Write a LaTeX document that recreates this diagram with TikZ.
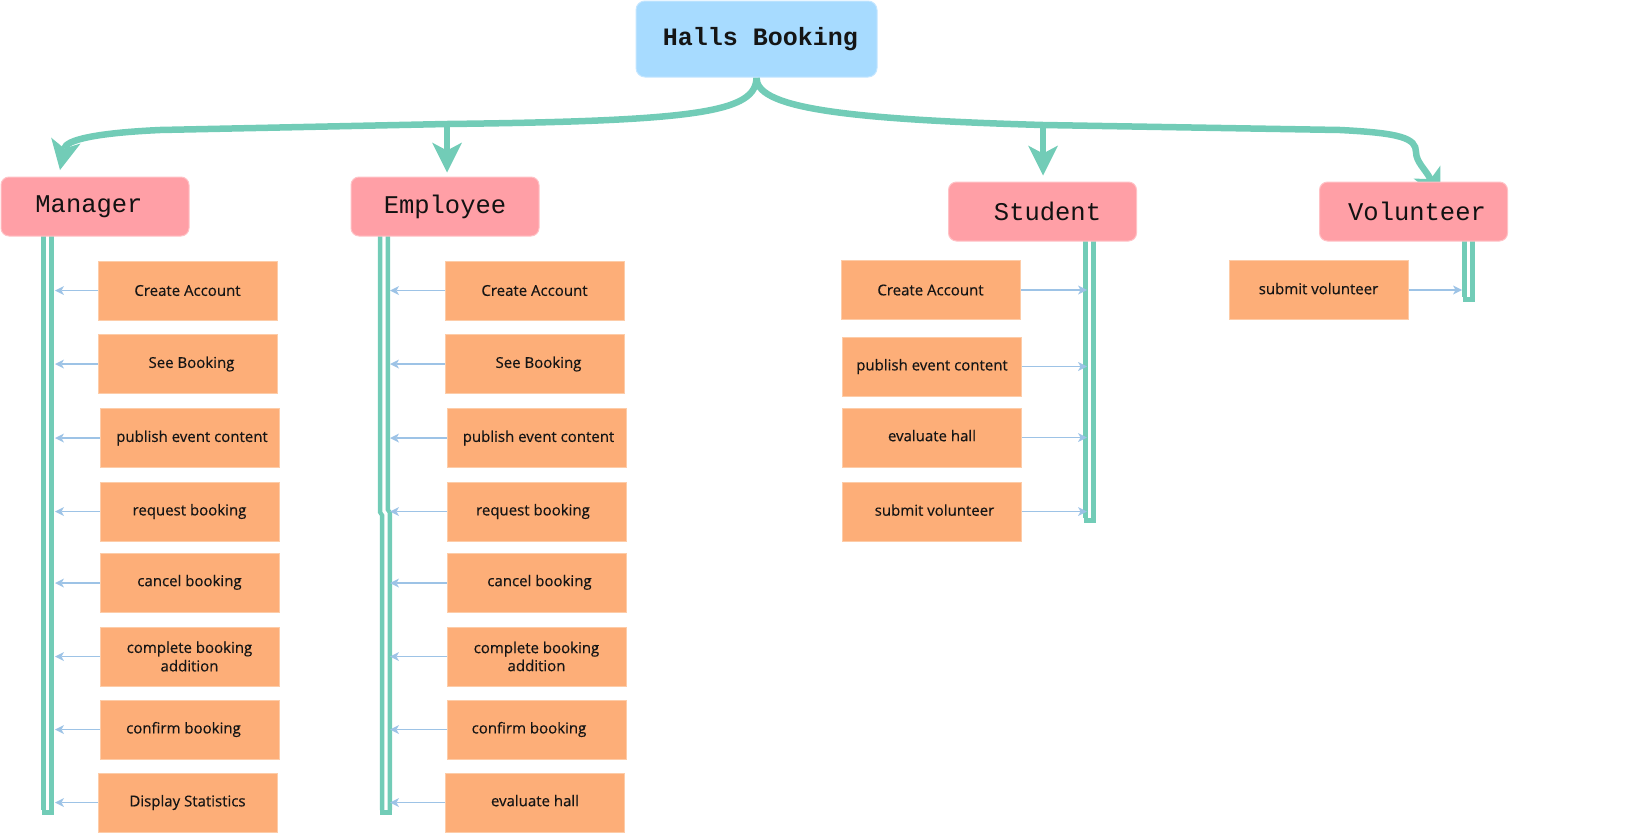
\documentclass[tikz,border=0pt]{standalone}
\usepackage{fontspec}
\setmainfont{Open Sans}[FakeBold=0.35]
\newfontfamily\taskfont{Open Sans}[FakeBold=0.4]
\newfontfamily\monofont{Liberation Mono}
\usetikzlibrary{arrows.meta,backgrounds}
\definecolor{tealc}{HTML}{72CCB7}
\definecolor{hallsfill}{HTML}{A7DBFF}
\definecolor{hallsborder}{HTML}{C4E6FF}
\definecolor{pinkfill}{HTML}{FF9FA6}
\definecolor{pinkborder}{HTML}{FFC2C6}
\definecolor{orangefill}{HTML}{FDAE78}
\definecolor{orangeborder}{HTML}{FDCCA8}
\definecolor{linkblue}{HTML}{9DC3E6}
\definecolor{txt}{HTML}{151515}
\begin{document}
\begin{tikzpicture}[x=1pt,y=-1pt,
  titlebox/.style={draw=hallsborder, line width=1pt, fill=hallsfill, rounded corners=9pt,
    minimum width=241pt, minimum height=76pt, inner sep=0pt, text=txt,
    font=\monofont\bfseries\fontsize{25}{28}\selectfont},
  rolebox/.style={draw=pinkborder, line width=1pt, fill=pinkfill, rounded corners=8pt,
    minimum width=188pt, minimum height=59pt, inner sep=0pt, text=txt!85!black,
    font=\monofont\fontsize{25.5}{28}\selectfont},
  taskbox/.style={draw=orangeborder, line width=1pt, fill=orangefill,
    minimum width=179pt, minimum height=59pt, inner sep=0pt, align=center, text=txt,
    font=\taskfont\fontsize{15}{18.5}\selectfont},
  trunk/.style={draw=tealc, line width=6.5pt,
    -{Stealth[length=30pt,width=30pt,inset=8pt,line width=0pt]}},
  rail/.style={draw=tealc, line width=4.4pt, double=white, double distance=3.4pt},
  railcap/.style={fill=tealc},
  link/.style={draw=linkblue, line width=1.3pt,
    -{Stealth[length=9pt,width=9pt,inset=2.5pt,line width=0pt]}}
]
\useasboundingbox (0,0) rectangle (1638,833);

% top and role nodes
\node[titlebox] (halls) at (756.5,39) {\hspace*{8pt}Halls Booking};
\node[rolebox] (manager) at (95,206.5) {Manager\hspace*{12pt}};
\node[rolebox] (employee) at (445,206.5) {Employee};
\node[rolebox] (student) at (1042.5,211.5) {\hspace*{10pt}Student};
\node[rolebox] (volunteer) at (1413.5,211.5) {\hspace*{7pt}Volunteer};

% manager tasks
\node[taskbox] (m1) at (187.5,290.5) {\raisebox{-2pt}{Create Account}};
\node[taskbox] (m2) at (187.5,364) {\hspace*{8pt}See Booking};
\node[taskbox] (m3) at (189.5,438) {\hspace*{5pt}publish event content};
\node[taskbox] (m4) at (189.5,511.5) {request booking};
\node[taskbox] (m5) at (189.5,583) {\raisebox{5pt}{cancel booking}};
\node[taskbox] (m6) at (189.5,656.5) {complete booking\\addition};
\node[taskbox] (m7) at (189.5,729.5) {confirm booking\hspace*{12pt}};
\node[taskbox] (m8) at (187.5,802.5) {Display Statistics};

% employee tasks
\node[taskbox] (e1) at (534.5,290.5) {\raisebox{-2pt}{Create Account}};
\node[taskbox] (e2) at (534.5,364) {\hspace*{8pt}See Booking};
\node[taskbox] (e3) at (536.5,438) {\hspace*{4pt}publish event content};
\node[taskbox] (e4) at (536.5,511.5) {request booking\hspace*{7pt}};
\node[taskbox] (e5) at (536.5,583) {\raisebox{5pt}{\hspace*{6pt}cancel booking}};
\node[taskbox] (e6) at (536.5,656.5) {\raisebox{-5pt}{\shortstack{complete booking\\addition}}};
\node[taskbox] (e7) at (536.5,729.5) {confirm booking\hspace*{15pt}};
\node[taskbox] (e8) at (535,802.5) {\raisebox{4pt}{evaluate hall}};

% student tasks
\node[taskbox] (s1) at (930.5,290) {\raisebox{-2pt}{Create Account}};
\node[taskbox] (s2) at (932,366.5) {publish event content};
\node[taskbox] (s3) at (932,437.5) {\raisebox{4pt}{evaluate hall}};
\node[taskbox] (s4) at (932,511.5) {\raisebox{3pt}{\hspace*{5pt}submit volunteer}};

% volunteer task
\node[taskbox] (v1) at (1318.5,290) {\raisebox{3pt}{submit volunteer}};

% rail positions
\coordinate (mx) at (55,0);
\coordinate (ex) at (390,0);
\coordinate (sx) at (1087,0);
\coordinate (vx) at (1462,0);

% branch points
\coordinate (eb) at (447,124);
\coordinate (mb) at (160,130);
\coordinate (mtip) at (60,170);
\coordinate (sb) at (1043,125);
\coordinate (vb) at (1340,130);
\coordinate (vtip) at (1440,199);

\begin{pgfonlayer}{background}
  % main connectors
  \draw[trunk] (halls.south) .. controls (756,112) and (700,121) .. (eb) -- (mb)
     .. controls (95,133) and (66,140) .. (mtip);
  \draw[trunk] (eb) -- ([yshift=4pt]eb |- employee.north);
  \draw[trunk] (halls.south) .. controls (756,106) and (830,119) .. (sb) -- (vb)
     .. controls (1400,133) and (1416,138) .. (1416,152)
     .. controls (1416,162) and (1426,170) .. (vtip);
  \draw[trunk] (sb) -- ([yshift=6pt]sb |- student.north);

  % rails
  \draw[rail] (47.5,236) -- (47.5,810);
  \fill[railcap] (41.5,810) rectangle (53.5,815);
  \draw[rail] (384,236) -- (384,511) -- (386,514) -- (386,810);
  \fill[railcap] (380,810) rectangle (392,815);
  \draw[rail] (1089.5,241) -- (1089.5,518);
  \fill[railcap] (1083.5,518) rectangle (1095.5,523);
  \draw[rail] (1468.5,241) -- (1468.5,297);
  \fill[railcap] (1462.5,297) rectangle (1474.5,302);
\end{pgfonlayer}

% task links
\foreach \n in {m1,m2,m3,m4,m5,m6,m7,m8}{
  \draw[link] (\n.west) -- (\n.west -| mx);
}
\foreach \n in {e1,e2,e3,e4,e5,e6,e7,e8}{
  \draw[link] (\n.west) -- (\n.west -| ex);
}
\foreach \n in {s1,s2,s3,s4}{
  \draw[link] (\n.east) -- (\n.east -| sx);
}
\draw[link] (v1.east) -- (v1.east -| vx);
\end{tikzpicture}
\end{document}
